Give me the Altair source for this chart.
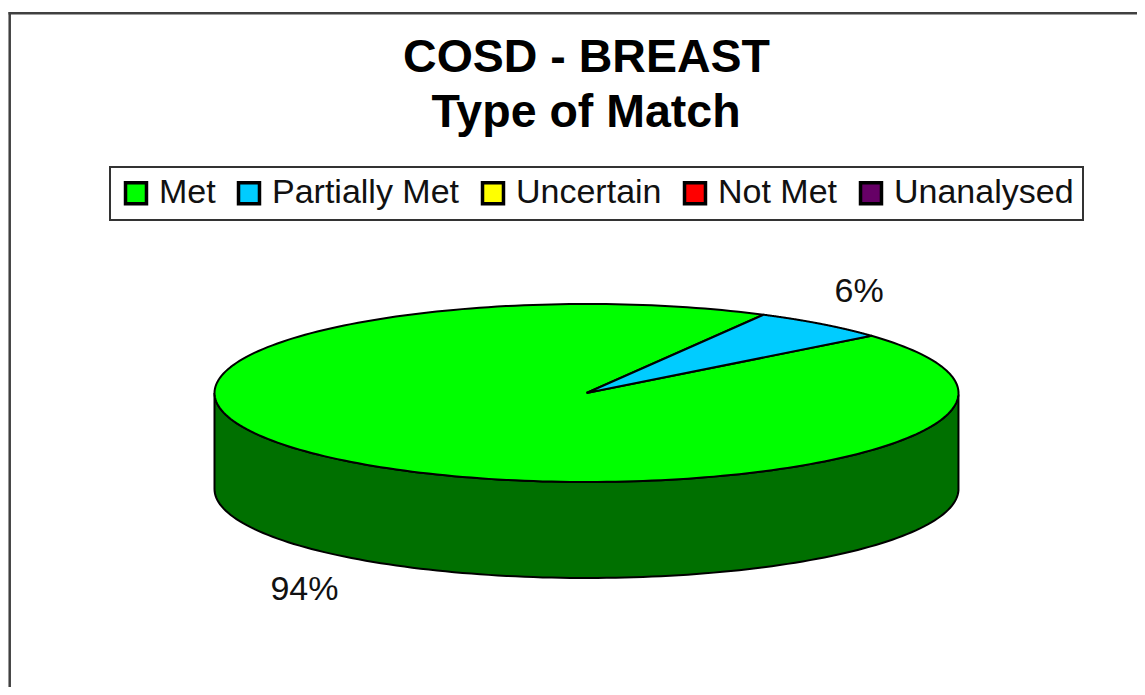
import altair as alt
import pandas as pd

# ---- data ----
categories = ["Met", "Partially Met", "Uncertain", "Not Met", "Unanalysed"]
values = [94, 6, 0, 0, 0]
title_lines = ["COSD - BREAST", "Type of Match"]

# ---- style ----
colors = ["#00FF00", "#00CCFF", "#FFFF00", "#FF0000", "#660066"]
side_colors = ["#007000", "#005A70", "#707000", "#700000", "#2D002D"]
FONT = "Liberation Sans"
W, H = 1129, 679                 # plot area (page coords = data coords)
CX, CY, RX, RY, DEPTH = 586.5, 393.0, 372.0, 89.0, 96.0
START = 40.0                     # first slice starts here (deg, counter-clockwise from 3 o'clock)
N = 240                          # arc samples per slice
KX, KY = 1.055, 1.46             # label distance factors

table = pd.DataFrame({"category": categories, "value": values,
                      "order": list(range(len(categories)))})

xs = alt.Scale(domain=[8, 8 + W], nice=False, zero=False)
ys = alt.Scale(domain=[8, 8 + H], nice=False, zero=False, reverse=True)


def base():
    return (alt.Chart(table)
            .transform_joinaggregate(total="sum(value)")
            .transform_window(cum="sum(value)", sort=[alt.SortField("order")])
            .transform_calculate(t0=f"{START} - 360 * (datum.cum - datum.value) / datum.total")
            .transform_calculate(t1=f"{START} - 360 * datum.cum / datum.total")
            .transform_filter("datum.value > 0"))


# side wall (front half only)
wall = (base()
        .transform_calculate(k=f"sequence(0, {N + 1})")
        .transform_flatten(["k"])
        .transform_calculate(t=f"(datum.t0 + (datum.t1 - datum.t0) * datum.k / {N}) * PI / 180")
        .transform_filter("sin(datum.t) <= 1e-9")
        .transform_calculate(px=f"{CX} + {RX} * cos(datum.t)")
        .transform_calculate(ytop=f"{CY} - {RY} * sin(datum.t)")
        .transform_calculate(ybot=f"{CY} - {RY} * sin(datum.t) + {DEPTH}")
        .mark_area(stroke="black", strokeWidth=2, interpolate="linear")
        .encode(
            x=alt.X("px:Q", scale=xs, axis=None),
            y=alt.Y("ytop:Q", scale=ys, axis=None, stack=None),
            y2="ybot:Q",
            fill=alt.Fill("category:N", scale=alt.Scale(domain=categories, range=side_colors), legend=None),
            detail="category:N",
        ))

# top face slices
top = (base()
       .transform_calculate(k=f"sequence(-1, {N + 2})")
       .transform_flatten(["k"])
       .transform_calculate(c=f"datum.k < 0 || datum.k > {N}")
       .transform_calculate(t=f"(datum.t0 + (datum.t1 - datum.t0) * clamp(datum.k, 0, {N}) / {N}) * PI / 180")
       .transform_calculate(px=f"datum.c ? {CX} : {CX} + {RX} * cos(datum.t)")
       .transform_calculate(py=f"datum.c ? {CY} : {CY} - {RY} * sin(datum.t)")
       .mark_line(stroke="black", strokeWidth=2, strokeJoin="round")
       .encode(
           x=alt.X("px:Q", scale=xs, axis=None),
           y=alt.Y("py:Q", scale=ys, axis=None),
           fill=alt.Fill("category:N", scale=alt.Scale(domain=categories, range=colors), legend=None),
           detail="category:N",
           order=alt.Order("k:Q"),
       ))

# legend (built from the full category list)
legend_layer = (alt.Chart(table)
                .mark_square(opacity=0, size=440, filled=True, stroke="black", strokeWidth=3.5)
                .encode(
                    x=alt.value(-100), y=alt.value(-100),
                    color=alt.Color("category:N",
                                    scale=alt.Scale(domain=categories, range=colors),
                                    legend=alt.Legend(title=None, orient="none", legendX=102, legendY=159,
                                                      direction="horizontal", columns=5,
                                                      symbolType="square", symbolSize=440,
                                                      symbolOpacity=1,
                                                      symbolStrokeColor="black", symbolStrokeWidth=3.5,
                                                      labelFont=FONT, labelFontSize=34, labelColor="#111111",
                                                      labelOffset=6, labelLimit=500, columnPadding=15,
                                                      padding=9, strokeColor="#333333", fillColor="white"))))


# percentage labels (right-side labels start at their anchor, left-side labels end there)
def label_layer(right_side):
    cond = "cos(datum.tm) >= 0" if right_side else "cos(datum.tm) < 0"
    return (base()
            .transform_calculate(tm="(datum.t0 + datum.t1) / 2 * PI / 180")
            .transform_filter(cond)
            .transform_calculate(lx=f"{CX} + {RX} * {KX} * cos(datum.tm)")
            .transform_calculate(ly=f"{CY} - {RY} * {KY} * sin(datum.tm) + (sin(datum.tm) < 0 ? {DEPTH} : 0)")
            .transform_calculate(txt="format(datum.value / datum.total, '.0%')")
            .mark_text(font=FONT, fontSize=34, color="#111111",
                       align="left" if right_side else "right", baseline="middle")
            .encode(x=alt.X("lx:Q", scale=xs, axis=None),
                    y=alt.Y("ly:Q", scale=ys, axis=None),
                    text="txt:N"))


labels_r = label_layer(True)
labels_l = label_layer(False)

one = pd.DataFrame({"a": [0]})
title1 = alt.Chart(one).mark_text(font=FONT, fontSize=46.5, fontWeight="bold", color="black",
                                  align="center", baseline="alphabetic").encode(
    x=alt.value(578.5), y=alt.value(64), text=alt.value(title_lines[0]))
title2 = alt.Chart(one).mark_text(font=FONT, fontSize=46.5, fontWeight="bold", color="black",
                                  align="center", baseline="alphabetic").encode(
    x=alt.value(578), y=alt.value(119), text=alt.value(title_lines[1]))

frame_left = alt.Chart(one).mark_rule(color="#404040", strokeWidth=2.5).encode(
    x=alt.value(1.7), y=alt.value(4), y2=alt.value(H))
frame_top = alt.Chart(one).mark_rule(color="#404040", strokeWidth=2.5).encode(
    x=alt.value(0.5), x2=alt.value(W), y=alt.value(5.3))

chart = (alt.layer(frame_left, frame_top, wall, top, labels_r, labels_l, title1, title2, legend_layer)
         .resolve_scale(fill="independent", color="independent")
         .properties(width=W, height=H, padding=0,
                     autosize=alt.AutoSizeParams(type="none"), background="white")
         .configure_view(stroke=None)
         .configure_legend(strokeWidth=2))

chart.save("out.html", embed_options={"renderer": "svg", "actions": False})
